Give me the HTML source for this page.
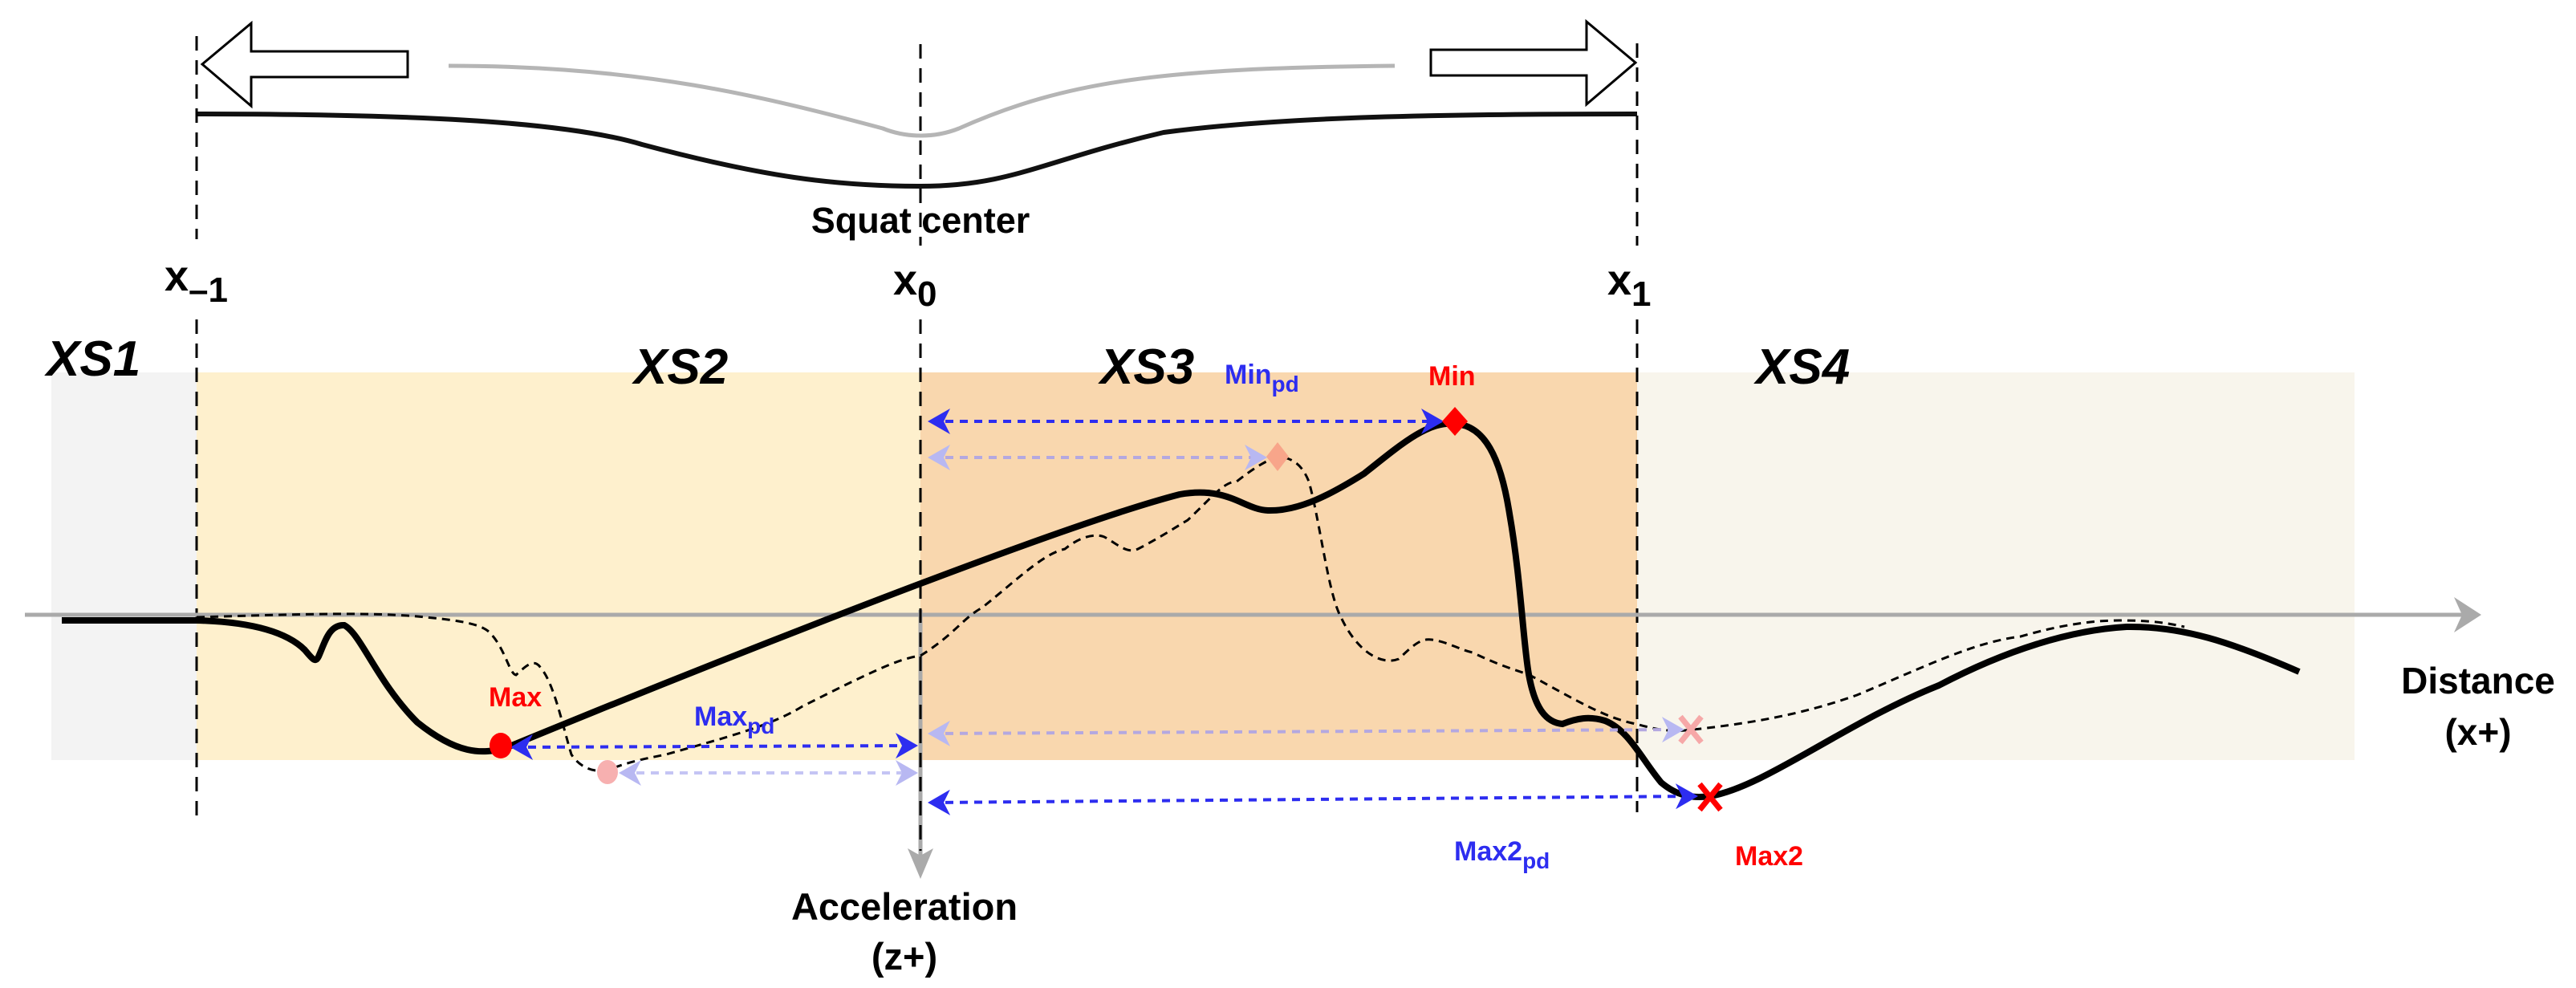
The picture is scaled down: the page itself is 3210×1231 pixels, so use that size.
<!DOCTYPE html>
<html><head><meta charset="utf-8"><style>
html,body{margin:0;padding:0;background:#fff;}
svg{display:block;font-family:"Liberation Sans",Arial,sans-serif;font-weight:bold;}
</style></head><body>
<svg width="3210" height="1231" viewBox="0 0 3210 1231" xmlns="http://www.w3.org/2000/svg">
<defs>
<marker id="ab" markerWidth="28" markerHeight="32" refX="24" refY="16" orient="auto-start-reverse" markerUnits="userSpaceOnUse" viewBox="0 0 28 32"><path d="M0,0 L28,16 L0,32 L8,16 Z" fill="#2d2df0"/></marker>
<marker id="af" markerWidth="28" markerHeight="32" refX="24" refY="16" orient="auto-start-reverse" markerUnits="userSpaceOnUse" viewBox="0 0 28 32"><path d="M0,0 L28,16 L0,32 L8,16 Z" fill="#b8b8f2"/></marker>
</defs>
<!-- bands -->
<rect x="64" y="464" width="181" height="483" fill="#f3f3f3"/>
<rect x="245" y="464" width="902" height="483" fill="#fef0cd"/>
<rect x="1147" y="464" width="893" height="483" fill="#f9d7ae"/>
<rect x="2040" y="464" width="894" height="483" fill="#f8f5ec"/>

<!-- top arrows -->
<polygon points="252,80 313,29 313,64 508,64 508,96 313,96 313,132" fill="#fff" stroke="#000" stroke-width="3"/>
<polygon points="2038,78 1977,27 1977,62 1783,62 1783,94 1977,94 1977,130" fill="#fff" stroke="#000" stroke-width="3"/>
<!-- squat curves -->
<path d="M559,82 C800,82 950,120 1100,160 C1130,172 1165,172 1195,160 C1330,100 1450,85 1738,82" fill="none" stroke="#b5b5b5" stroke-width="5"/>
<path d="M245,142 C500,142 700,150 800,180 C950,220 1040,232 1147,232 C1260,232 1300,200 1450,165 C1600,145 1800,142 2040,142" fill="none" stroke="#111" stroke-width="6"/>

<!-- dashed verticals -->
<g stroke="#000" stroke-width="3" stroke-dasharray="18,12">
<line x1="245" y1="45" x2="245" y2="298"/>
<line x1="1147" y1="55" x2="1147" y2="306"/>
<line x1="2040" y1="54" x2="2040" y2="306"/>
<line x1="245" y1="398" x2="245" y2="1022"/>
<line x1="2040" y1="398" x2="2040" y2="1012"/>
</g>
<!-- axes -->
<line x1="31" y1="766" x2="3070" y2="766" stroke="#aaa" stroke-width="5"/>
<polygon points="3092,766 3058,744 3068,766 3058,788" fill="#aaa"/>
<line x1="1147" y1="760" x2="1147" y2="1070" stroke="#aaa" stroke-width="5"/>
<polygon points="1147,1095 1131,1057 1147,1066 1163,1057" fill="#aaa"/>
<line x1="1147" y1="398" x2="1147" y2="1060" stroke="#000" stroke-width="3" stroke-dasharray="18,12"/>

<!-- dashed curve -->
<path d="M245,769 C350,766 450,762 520,768 C560,772 600,775 612,790 C630,810 635,840 643,841 C655,830 665,820 673,831 C690,850 700,900 712,940 C725,960 745,962 757,960 C780,950 800,946 830,940 C900,920 960,905 1000,880 C1080,840 1120,820 1147,817 C1190,790 1200,770 1224,757 C1270,720 1300,690 1327,684 C1350,665 1370,665 1378,670 C1395,680 1405,690 1418,684 C1445,670 1460,660 1480,648 C1510,620 1525,600 1541,600 C1560,585 1575,575 1592,569 C1615,570 1625,585 1631,600 C1645,650 1655,740 1671,769 C1690,810 1720,830 1743,821 C1760,805 1770,795 1784,797 C1805,800 1820,810 1835,813 C1870,830 1890,835 1906,841 C1960,870 2000,895 2039,902 C2060,908 2080,912 2100,910 C2200,900 2260,885 2314,866 C2400,830 2460,800 2518,793 C2580,775 2620,773 2641,773 C2680,773 2700,776 2722,781" fill="none" stroke="#000" stroke-width="3" stroke-dasharray="10,7"/>

<!-- main curve -->
<path d="M77,773 L245,773 C320,775 360,790 380,810 C390,822 393,826 397,818 C405,800 410,778 429,779 C450,790 470,850 520,900 C570,940 600,940 630,932 C800,862 1300,660 1470,616 C1530,605 1550,635 1580,636 C1620,637 1660,615 1700,590 C1750,550 1780,525 1813,528 C1850,530 1870,570 1881,640 C1895,720 1898,800 1905,840 C1912,880 1925,900 1947,902 C1965,895 1980,892 2000,898 C2030,910 2045,945 2070,975 C2090,992 2110,995 2131,992 C2200,980 2300,900 2416,854 C2500,810 2580,785 2650,781 C2720,780 2780,800 2865,837" fill="none" stroke="#000" stroke-width="8" stroke-linecap="butt"/>

<!-- pd arrows -->
<g stroke-width="4" stroke-dasharray="10,8" fill="none">
<line x1="1160" y1="525" x2="1795" y2="525" stroke="#2d2df0" marker-start="url(#ab)" marker-end="url(#ab)"/>
<line x1="1160" y1="570" x2="1575" y2="570" stroke="#b4a8e0" marker-start="url(#af)" marker-end="url(#af)"/>
<line x1="640" y1="931" x2="1140" y2="929" stroke="#2d2df0" marker-start="url(#ab)" marker-end="url(#ab)"/>
<line x1="775" y1="963" x2="1140" y2="963" stroke="#c4c4f4" marker-start="url(#af)" marker-end="url(#af)"/>
<line x1="1160" y1="914" x2="2095" y2="909" stroke="#b4a8e0" marker-start="url(#af)" marker-end="url(#af)"/>
<line x1="1160" y1="1000" x2="2112" y2="992" stroke="#2d2df0" marker-start="url(#ab)" marker-end="url(#ab)"/>
</g>

<!-- markers -->
<polygon points="1813,507 1829,525 1813,543 1797,525" fill="#f00"/>
<polygon points="1592,551 1606,569 1592,587 1578,569" fill="#f8a58a"/>
<ellipse cx="624" cy="929" rx="14" ry="16" fill="#f00"/>
<ellipse cx="757" cy="962" rx="13" ry="15" fill="#f7b0b0"/>
<g stroke="#f00" stroke-width="7"><line x1="2118" y1="977" x2="2144" y2="1009"/><line x1="2144" y1="977" x2="2118" y2="1009"/></g>
<g stroke="#f6a8a8" stroke-width="7"><line x1="2094" y1="893" x2="2120" y2="925"/><line x1="2120" y1="893" x2="2094" y2="925"/></g>

<!-- labels -->
<text x="1147" y="290" font-size="45" text-anchor="middle">Squat center</text>
<text x="205" y="362" font-size="54">x<tspan font-size="44" dy="14">–1</tspan></text>
<text x="1113" y="367" font-size="54">x<tspan font-size="44" dy="14">0</tspan></text>
<text x="2003" y="367" font-size="54">x<tspan font-size="44" dy="14">1</tspan></text>
<g font-size="62" font-style="italic">
<text x="58" y="468">XS1</text>
<text x="790" y="478">XS2</text>
<text x="1371" y="478">XS3</text>
<text x="2188" y="478">XS4</text>
</g>
<text x="1526" y="478" font-size="34" fill="#2d2df0">Min<tspan font-size="28" dy="10">pd</tspan></text>
<text x="1780" y="480" font-size="34" fill="#f00">Min</text>
<text x="609" y="880" font-size="34" fill="#f00">Max</text>
<text x="865" y="904" font-size="34" fill="#2d2df0">Max<tspan font-size="28" dy="10">pd</tspan></text>
<text x="1812" y="1072" font-size="34" fill="#2d2df0">Max2<tspan font-size="28" dy="10">pd</tspan></text>
<text x="2162" y="1078" font-size="34" fill="#f00">Max2</text>
<text x="1127" y="1146" font-size="47" text-anchor="middle">Acceleration</text>
<text x="1127" y="1208" font-size="47" text-anchor="middle">(z+)</text>
<text x="3088" y="864" font-size="46" text-anchor="middle">Distance</text>
<text x="3088" y="928" font-size="46" text-anchor="middle">(x+)</text>
</svg>
</body></html>
